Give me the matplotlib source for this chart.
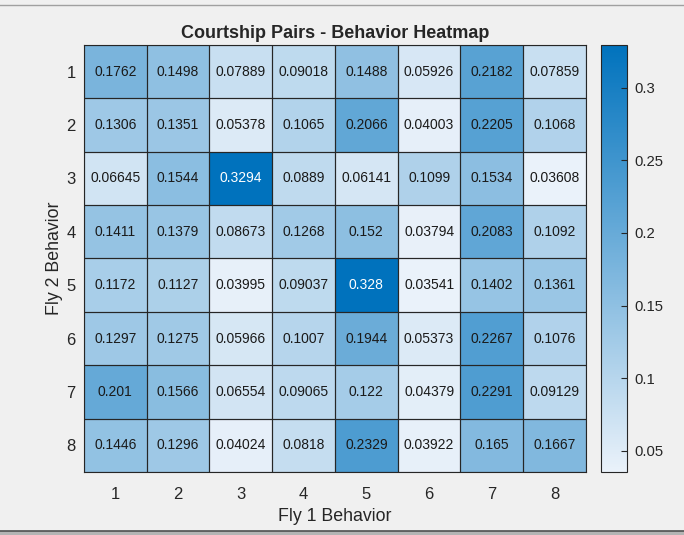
import numpy as np
import matplotlib.pyplot as plt
from matplotlib.colors import LinearSegmentedColormap
from matplotlib.lines import Line2D
from matplotlib.patches import Rectangle

plt.rcParams['font.family'] = ['Liberation Sans', 'DejaVu Sans']

# behaviour categories (both axes)
fly1_labels = ["1", "2", "3", "4", "5", "6", "7", "8"]
fly2_labels = ["1", "2", "3", "4", "5", "6", "7", "8"]

# transition probabilities, one row per Fly 2 behaviour
row1 = [0.1762, 0.1498, 0.07889, 0.09018, 0.1488, 0.05926, 0.2182, 0.07859]
row2 = [0.1306, 0.1351, 0.05378, 0.1065, 0.2066, 0.04003, 0.2205, 0.1068]
row3 = [0.06645, 0.1544, 0.3294, 0.0889, 0.06141, 0.1099, 0.1534, 0.03608]
row4 = [0.1411, 0.1379, 0.08673, 0.1268, 0.152, 0.03794, 0.2083, 0.1092]
row5 = [0.1172, 0.1127, 0.03995, 0.09037, 0.328, 0.03541, 0.1402, 0.1361]
row6 = [0.1297, 0.1275, 0.05966, 0.1007, 0.1944, 0.05373, 0.2267, 0.1076]
row7 = [0.201, 0.1566, 0.06554, 0.09065, 0.122, 0.04379, 0.2291, 0.09129]
row8 = [0.1446, 0.1296, 0.04024, 0.0818, 0.2329, 0.03922, 0.165, 0.1667]

cbar_ticks = [0.05, 0.1, 0.15, 0.2, 0.25, 0.3]

data = np.array([row1, row2, row3, row4, row5, row6, row7, row8])

bg = "#f0f0f0"
txt = "#262626"
cmap = LinearSegmentedColormap.from_list("mblue", ["#eaf2fa", "#0072bd"])
vmin, vmax = data.min(), data.max()

fig = plt.figure(figsize=(6.84, 5.35), dpi=100, facecolor=bg)
ax = fig.add_axes([0.1228, 0.1178, 0.7339, 0.7981])
cax = fig.add_axes([0.8787, 0.1178, 0.0380, 0.7981])

im = ax.imshow(data, cmap=cmap, vmin=vmin, vmax=vmax, aspect="auto")

# cell grid + value labels
nr, nc = data.shape
for i in range(nr):
    for j in range(nc):
        ax.add_patch(Rectangle((j - 0.5, i - 0.5), 1, 1, fill=False,
                               edgecolor=txt, linewidth=0.8))
        v = data[i, j]
        frac = (v - vmin) / (vmax - vmin)
        ax.text(j, i, "%.4g" % v, ha="center", va="center", fontsize=10,
                color="white" if frac > 0.9 else "#1a1a1a")

ax.set_xticks(range(nc))
ax.set_xticklabels(fly1_labels)
ax.set_yticks(range(nr))
ax.set_yticklabels(fly2_labels)
ax.tick_params(length=0, labelsize=12, colors=txt)
ax.tick_params(axis="x", pad=11)
ax.tick_params(axis="y", pad=6)
for s in ax.spines.values():
    s.set_color(txt)
    s.set_linewidth(0.8)

ax.set_xlabel("Fly 1 Behavior", fontsize=12.8, color=txt, labelpad=4)
ax.set_ylabel("Fly 2 Behavior", fontsize=12.8, color=txt, labelpad=2.5)
ax.set_title("Courtship Pairs - Behavior Heatmap", fontsize=13,
             fontweight="bold", color=txt, pad=5)

cb = fig.colorbar(im, cax=cax, ticks=cbar_ticks)
cb.ax.tick_params(labelsize=10.7, colors=txt, direction="in", length=4, pad=5)
cb.set_ticklabels(["0.05", "0.1", "0.15", "0.2", "0.25", "0.3"])
cb.outline.set_edgecolor(txt)
cb.outline.set_linewidth(0.8)

# window frame bits
fig.add_artist(Line2D([0, 1], [1 - 4.5 / 535] * 2, color="#a0a0a0", lw=1))
fig.add_artist(Rectangle((0, 0), 1, 4 / 535, transform=fig.transFigure,
                         facecolor="#b4b4b4", edgecolor="none"))
fig.add_artist(Line2D([0, 1], [4 / 535] * 2, color="#505050", lw=1.2))

fig.savefig("out.png", dpi=100, facecolor=bg)
